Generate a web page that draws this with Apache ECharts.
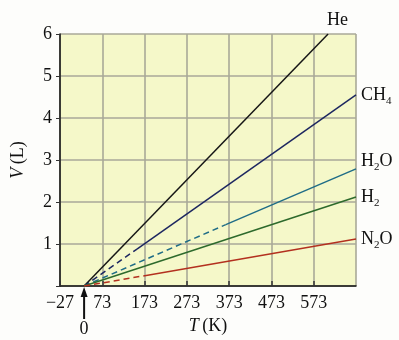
<!DOCTYPE html>
<html>
<head>
<meta charset="utf-8">
<script src="https://cdn.jsdelivr.net/npm/echarts@6/dist/echarts.min.js"></script>
<style>html,body{margin:0;padding:0;background:#fdfdfb;}#c{width:399px;height:340px;}</style>
</head>
<body>
<div id="c"></div>
<script>
// ---- data ----
const gases = ['He', 'CH4', 'H2O', 'H2', 'N2O'];
const gasLabels = ['{m|He}', '{m|CH}{s|4}', '{m|H}{s|2}{m|O}', '{m|H}{s|2}', '{m|N}{s|2}{m|O}'];
const originT = 30;                       // convergence point drawn on the axis (marked "0")
const originLabel = '0';
const endT = [607, 673, 673, 673, 673];   // T at line end
const endV = [6.0, 4.55, 2.79, 2.12, 1.12];
const breakT = [null, 155, 365, null, 170]; // end of dashed (extrapolated) part
const breakV = [null, 0.88, 1.46, null, 0.24];
const colors = ['#161616', '#1d2760', '#1f6c86', '#2d6a2c', '#b3301f'];
const xMin = -27, xMax = 673, xStep = 100;
const yMin = 0, yMax = 6, yStep = 1;

const chart = echarts.init(document.getElementById('c'));
const FONT = '"Liberation Serif", "Times New Roman", Times, serif';

const labelOffsets = [[-6, -14], [0, 0], [0, -8], [0, 0], [0, 0]];

const series = [];
gases.forEach((g, i) => {
  const endLabel = {
    show: true,
    formatter: gasLabels[i],
    distance: 5,
    offset: labelOffsets[i],
    color: '#111',
    rich: {
      m: {fontFamily: FONT, fontSize: 18, color: '#111'},
      s: {fontFamily: FONT, fontSize: 11, color: '#111', padding: [12, 0, 0, 0]}
    }
  };
  if (breakT[i] !== null) {
    series.push({
      type: 'line', name: g + ' (extrapolated)', symbol: 'none', silent: true,
      data: [[originT, 0], [breakT[i], breakV[i]]],
      lineStyle: {color: colors[i], width: 1.5, type: [6, 4]}
    });
    series.push({
      type: 'line', name: g, symbol: 'none', silent: true,
      data: [[breakT[i], breakV[i]], [endT[i], endV[i]]],
      lineStyle: {color: colors[i], width: 1.5},
      endLabel: endLabel
    });
  } else {
    series.push({
      type: 'line', name: g, symbol: 'none', silent: true,
      data: [[originT, 0], [endT[i], endV[i]]],
      lineStyle: {color: colors[i], width: 1.5},
      endLabel: endLabel
    });
  }
});

chart.setOption({
  backgroundColor: '#fdfdfb',
  animation: false,
  grid: {left: 60, right: 43, top: 34, bottom: 54, show: true, containLabel: false,
         outerBoundsMode: 'none',
         backgroundColor: '#f5f8c9', borderWidth: 0},
  xAxis: {
    type: 'value', min: xMin, max: xMax, interval: xStep,
    name: '{i|T} {n|(K)}', nameLocation: 'middle', nameGap: 28,
    nameTextStyle: {rich: {
      i: {fontFamily: FONT, fontSize: 18, fontStyle: 'italic', color: '#111'},
      n: {fontFamily: FONT, fontSize: 18, color: '#111'}}},
    axisLine: {onZero: false, lineStyle: {color: '#111', width: 1.5}},
    axisTick: {inside: true, length: 5, lineStyle: {color: '#333', width: 1.5}},
    axisLabel: {fontFamily: FONT, fontSize: 18, color: '#111', margin: 8,
      showMaxLabel: false,
      formatter: v => v === xMax ? '' : (v < 0 ? '\u2212' + Math.abs(v) : String(v))},
    splitLine: {show: true, lineStyle: {color: '#a9a998', width: 1.6}}
  },
  yAxis: {
    type: 'value', min: yMin, max: yMax, interval: yStep,
    name: '{i|V} {n|(L)}', nameLocation: 'middle', nameGap: 33,
    nameTextStyle: {rich: {
      i: {fontFamily: FONT, fontSize: 18, fontStyle: 'italic', color: '#111'},
      n: {fontFamily: FONT, fontSize: 18, color: '#111'}}},
    axisLine: {show: true, onZero: false, lineStyle: {color: '#111', width: 1.5}},
    axisTick: {show: true, inside: false, length: 4, lineStyle: {color: '#333'}},
    axisLabel: {fontFamily: FONT, fontSize: 18, color: '#111', margin: 8,
      formatter: v => v === 0 ? '' : String(v)},
    splitLine: {show: true, lineStyle: {color: '#a9a998', width: 1.6}}
  },
  series: series
});

// arrow marking the origin on the T axis, positioned through the axis scale
const p = chart.convertToPixel({gridIndex: 0}, [originT, 0]);
chart.setOption({
  graphic: [
    {type: 'line', silent: true, shape: {x1: p[0], y1: p[1] + 33, x2: p[0], y2: p[1] + 8},
     style: {stroke: '#111', lineWidth: 2}},
    {type: 'polygon', silent: true,
     shape: {points: [[p[0] - 3.5, p[1] + 11], [p[0] + 3.5, p[1] + 11], [p[0], p[1] + 1]]},
     style: {fill: '#111'}},
    {type: 'text', silent: true, x: p[0], y: p[1] + 43,
     style: {text: originLabel, fontFamily: FONT, fontSize: 18, fill: '#111',
             textAlign: 'center', textVerticalAlign: 'middle'}}
  ]
});
</script>
</body>
</html>
